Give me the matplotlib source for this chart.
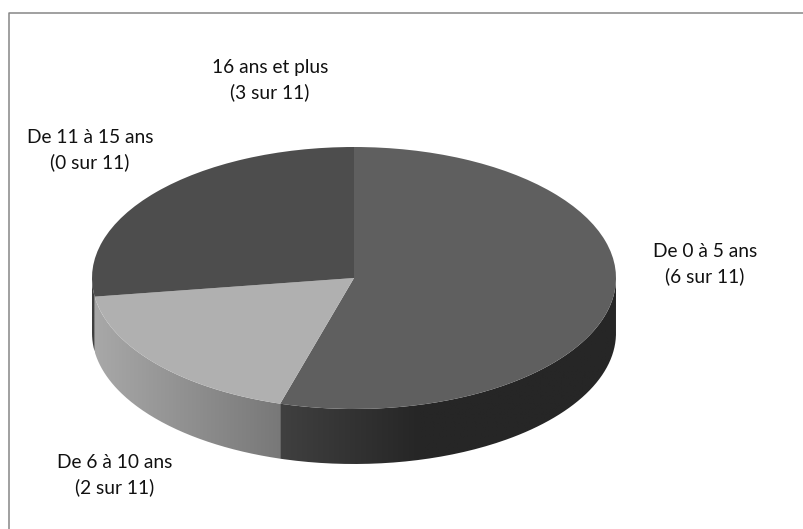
import numpy as np
import matplotlib
matplotlib.use('Agg')
import matplotlib.pyplot as plt
from matplotlib.lines import Line2D
from matplotlib.patches import PathPatch
from matplotlib.path import Path
from matplotlib.colors import LinearSegmentedColormap

plt.rcParams['font.family'] = ['Lato', 'DejaVu Sans']

# data
categories = ['De 0 à 5 ans', 'De 6 à 10 ans', 'De 11 à 15 ans', '16 ans et plus']
counts = [6, 2, 0, 3]
total = 11

# top face colours, then (left, right) grey of the side wall
top_colors = ['#5f5f5f', '#b0b0b0', '#7f7f7f', '#4d4d4d']
side_colors = [('#404040', '#262626'), ('#a8a8a8', '#787878'), ('#3f3f3f', '#3f3f3f'), ('#3f3f3f', '#3f3f3f')]
# where the dark wall stops getting darker, in pie units
side_stop = [0.25, None, None, None]

label_pos = [(705, 264), (115, 475), (90, 150), (270, 80)]

W, H = 804, 529
cx, cy, rx, ry = 354, 278, 262, 131
depth = 55 / ry

fig = plt.figure(figsize=(W / 100, H / 100), dpi=100, facecolor='white')
ax = fig.add_axes([0, 0, 1, 1])
wedges, _ = ax.pie(counts, startangle=90, counterclock=False, colors=top_colors,
                   wedgeprops=dict(linewidth=0))
ax.set_aspect('auto')
xlim = (-cx / rx, (W - cx) / rx)
ylim = (-(H - cy) / ry, cy / ry)
ax.set_xlim(xlim)
ax.set_ylim(ylim)

# side wall below the front half of the ellipse
for i, w in enumerate(wedges):
    a1, a2 = max(w.theta1, -180), min(w.theta2, 0)
    if counts[i] == 0 or a1 >= a2:
        continue
    t = np.radians(np.linspace(a1, a2, 120))
    xs, ys = np.cos(t), np.sin(t)
    verts = np.r_[np.c_[xs, ys], np.c_[xs[::-1], ys[::-1] - depth], [[xs[0], ys[0]]]]
    patch = PathPatch(Path(verts), fc='none', ec='none')
    ax.add_patch(patch)
    x0, x1 = xs.min(), xs.max()
    if side_stop[i] is not None:
        frac = (side_stop[i] - x0) / (x1 - x0)
        cmap = LinearSegmentedColormap.from_list('side', [(0, side_colors[i][0]), (frac, side_colors[i][1]), (1, side_colors[i][1])])
    else:
        cmap = LinearSegmentedColormap.from_list('side', side_colors[i])
    im = ax.imshow(np.linspace(0, 1, 256)[None, :], cmap=cmap, aspect='auto', zorder=0.5,
                   extent=(x0, x1, ys.min() - depth, ys.max()))
    im.set_clip_path(patch)
ax.set_xlim(xlim)
ax.set_ylim(ylim)
ax.axis('off')

for name, n, (px, py) in zip(categories, counts, label_pos):
    fig.text(px / W, 1 - py / H, f'{name}\n({n} sur {total})', ha='center', va='center',
             fontsize=13.8, color='#111111', linespacing=1.5)

# chart frame, only top and left are inside the crop
fig.add_artist(Line2D([9.5 / W, 9.5 / W, 1], [0, 1 - 12.5 / H, 1 - 12.5 / H], transform=fig.transFigure,
                      color='#868686', lw=1.1))

fig.savefig('out.png', dpi=100)
